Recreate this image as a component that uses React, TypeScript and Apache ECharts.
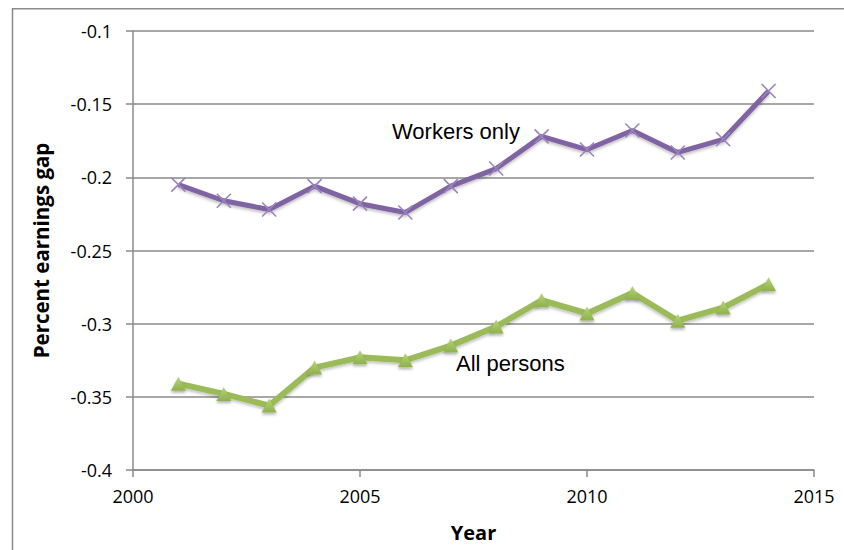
import React, { useEffect, useRef } from "react";
import * as echarts from "echarts";

const years = [2001, 2002, 2003, 2004, 2005, 2006, 2007, 2008, 2009, 2010, 2011, 2012, 2013, 2014];
const workersOnly = [-0.205, -0.216, -0.222, -0.206, -0.218, -0.224, -0.206, -0.194, -0.172, -0.181, -0.168, -0.183, -0.174, -0.141];
const allPersons = [-0.341, -0.348, -0.356, -0.330, -0.323, -0.325, -0.315, -0.302, -0.284, -0.293, -0.279, -0.298, -0.289, -0.273];
const yTicks = [-0.4, -0.35, -0.3, -0.25, -0.2, -0.15, -0.1];
const xTicks = [2000, 2005, 2010, 2015];

const tickFont = "Open Sans, Liberation Sans, sans-serif";
const labelFont = "Liberation Sans, Arial, sans-serif";

export default function App() {
  const ref = useRef<HTMLDivElement>(null);

  useEffect(() => {
    if (!ref.current) return;
    const chart = echarts.init(ref.current, undefined, { renderer: "svg" });
    const pair = (vals: number[]) => years.map((y, i) => [y, vals[i]]);
    const axisGray = "#8a8a8a";
    const pick = (list: number[]) => (v: number) => {
      const t = list.find((k) => Math.abs(k - v) < 1e-9);
      return t === undefined ? "" : String(t);
    };

    chart.setOption({
      animation: false,
      backgroundColor: "#ffffff",
      grid: { left: 133, top: 31, width: 681, height: 439 },
      xAxis: {
        type: "value",
        min: 2000,
        max: 2015,
        interval: 5,
        name: "Year",
        nameLocation: "middle",
        nameGap: 52,
        nameTextStyle: { fontFamily: tickFont, fontWeight: "bold", fontSize: 20, color: "#000" },
        axisLine: { show: true, lineStyle: { color: axisGray, width: 1.5 } },
        axisTick: { show: true, length: 7, lineStyle: { color: axisGray, width: 1.5 } },
        axisLabel: { fontFamily: tickFont, fontSize: 18, color: "#000", margin: 17, formatter: pick(xTicks) },
        splitLine: { show: false },
      },
      yAxis: {
        type: "value",
        min: -0.4,
        max: -0.1,
        interval: 0.05,
        name: "Percent earnings gap",
        nameLocation: "middle",
        nameGap: 82,
        nameTextStyle: { fontFamily: tickFont, fontWeight: "bold", fontSize: 20.5, color: "#000" },
        axisLine: { show: true, lineStyle: { color: axisGray, width: 1.5 } },
        axisTick: { show: true, length: 7, lineStyle: { color: axisGray, width: 1.5 } },
        axisLabel: { fontFamily: tickFont, fontSize: 18, color: "#000", margin: 21, formatter: pick(yTicks) },
        splitLine: { show: true, lineStyle: { color: axisGray, width: 1.5 } },
      },
      series: [
        {
          name: "Workers only",
          type: "line",
          data: pair(workersOnly),
          symbol: "path://M0,0 L10,10 M10,0 L0,10",
          symbolSize: 14,
          lineStyle: { color: "#8064A2", width: 5, shadowColor: "rgba(0,0,0,0.25)", shadowBlur: 3, shadowOffsetY: 2 },
          itemStyle: { color: "none", borderColor: "#9a84bc", borderWidth: 1.6 },
          z: 3,
        },
        {
          name: "All persons",
          type: "line",
          data: pair(allPersons),
          symbol: "triangle",
          symbolSize: [15, 14],
          lineStyle: { color: "#9BBB59", width: 6, shadowColor: "rgba(0,0,0,0.25)", shadowBlur: 3, shadowOffsetY: 2 },
          itemStyle: {
            color: new echarts.graphic.LinearGradient(0, 0, 0, 1, [
              { offset: 0, color: "#b5d57a" },
              { offset: 1, color: "#8fb04c" },
            ]),
            shadowColor: "rgba(0,0,0,0.3)",
            shadowBlur: 3,
            shadowOffsetY: 2,
          },
          z: 3,
        },
      ],
      graphic: [
        {
          type: "polyline",
          shape: { points: [[12.5, 620], [12.5, 8.75], [950, 8.75]] },
          style: { fill: "none", stroke: "#8a8a8a", lineWidth: 1.5 },
          silent: true,
        },
        {
          type: "text",
          x: 392,
          y: 131,
          style: { text: "Workers only", fontFamily: labelFont, fontSize: 22, fill: "#000", verticalAlign: "middle" },
        },
        {
          type: "text",
          x: 456,
          y: 363,
          style: { text: "All persons", fontFamily: labelFont, fontSize: 22, fill: "#000", verticalAlign: "middle" },
        },
      ],
    });
    return () => chart.dispose();
  }, []);

  return <div ref={ref} style={{ position: "absolute", left: 0, top: 0, width: 844, height: 550 }} />;
}
